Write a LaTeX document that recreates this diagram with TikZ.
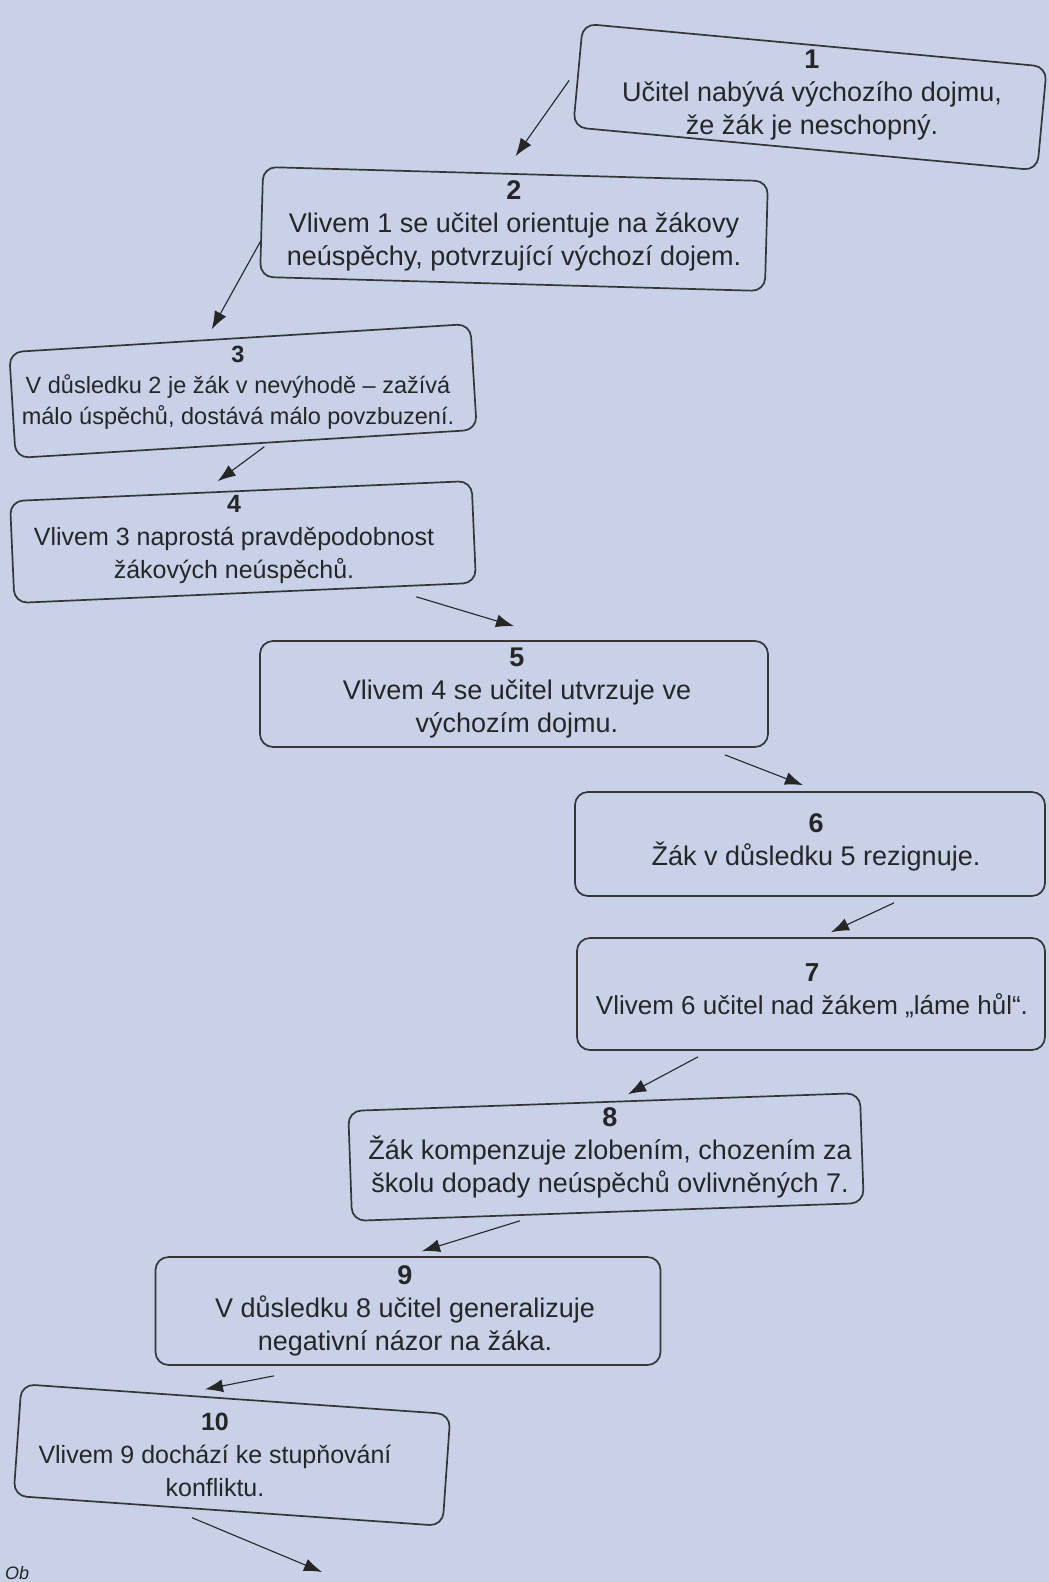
\documentclass[tikz,border=0pt]{standalone}
\usepackage{fontspec}
\setmainfont{Liberation Sans}
\usetikzlibrary{arrows.meta}
\definecolor{paper}{HTML}{C8D1E8}
\definecolor{ink}{HTML}{262626}
\definecolor{frame}{HTML}{363636}
\begin{document}
\begin{tikzpicture}[x=1pt,y=-1pt,
  box/.style={draw=frame, line width=1.7pt, rounded corners=13pt, fill=paper, inner sep=0pt},
  txt/.style={align=center, text=ink, inner sep=0pt, font=\fontsize{27}{33}\selectfont},
  midtxt/.style={align=center, text=ink, inner sep=0pt, font=\fontsize{25}{33}\selectfont},
  smalltxt/.style={align=center, text=ink, inner sep=0pt, font=\fontsize{23.5}{31}\selectfont},
  arr/.style={draw=ink, line width=1.1pt, -{Latex[length=18pt,width=13pt]}},
  capt/.style={text=ink, inner sep=0pt, font=\fontsize{18}{20}\selectfont\itshape}]
\fill[paper] (0,0) rectangle (1049,1582);
\useasboundingbox (0,0) rectangle (1049,1582);

% boxes
\node[box, minimum width=466pt, minimum height=104pt, rotate=-5.3] (n1) at (810,97) {};
\node[box, minimum width=505pt, minimum height=110pt, rotate=-1.6] (n2) at (514,229) {};
\node[box, minimum width=462pt, minimum height=106pt, rotate=3.5] (n3) at (243,391) {};
\node[box, minimum width=462pt, minimum height=102pt, rotate=2.5] (n4) at (243,542) {};
\node[box, minimum width=508pt, minimum height=106pt] (n5) at (514,694) {};
\node[box, minimum width=470pt, minimum height=104pt] (n6) at (810,844) {};
\node[box, minimum width=468pt, minimum height=112pt] (n7) at (811,994) {};
\node[box, minimum width=512pt, minimum height=110pt, rotate=2] (n8) at (606,1157) {};
\node[box, minimum width=505pt, minimum height=108pt] (n9) at (408,1311) {};
\node[box, minimum width=430pt, minimum height=112pt, rotate=-4] (n10) at (232,1455) {};

% texts
\node[txt] (t1) at (812,95)
  {{\bfseries 1}\\Učitel nabývá výchozího dojmu,\\že žák je neschopný.};
\node[txt] (t2) at (514,226)
  {{\bfseries 2}\\Vlivem 1 se učitel orientuje na žákovy\\neúspěchy, potvrzující výchozí dojem.};
\node[smalltxt] (t3) at (238,388)
  {{\bfseries 3}\\V důsledku 2 je žák v nevýhodě – zažívá\\málo úspěchů, dostává málo povzbuzení.};
\node[midtxt] (t4) at (234,539)
  {{\bfseries 4}\\Vlivem 3 naprostá pravděpodobnost\\žákových neúspěchů.};
\node[txt] (t5) at (517,693)
  {{\bfseries 5}\\Vlivem 4 se učitel utvrzuje ve\\výchozím dojmu.};
\node[txt] (t6) at (816,842)
  {{\bfseries 6}\\Žák v důsledku 5 rezignuje.};
\node[txt, font=\fontsize{26}{33}\selectfont] (t7) at (812,991)
  {{\bfseries 7}\\Vlivem 6 učitel nad žákem „láme hůl“.};
\node[txt] (t8) at (610,1153)
  {{\bfseries 8}\\Žák kompenzuje zlobením, chozením za\\školu dopady neúspěchů ovlivněných 7.};
\node[txt] (t9) at (405,1311)
  {{\bfseries 9}\\V důsledku 8 učitel generalizuje\\negativní názor na žáka.};
\node[midtxt] (t10) at (215,1455)
  {{\bfseries 10}\\Vlivem 9 dochází ke stupňování\\konfliktu.};

\coordinate (out) at (322,1572);

% connectors
\draw[arr] ([shift={(-8,5)}]n1.west) -- ([shift={(0,-17)}]n2.north);
\draw[arr] ([shift={(0,19)}]n2.west) -- ([shift={(-28,-8)}]n3.north);
\draw[arr] ([shift={(18,2)}]n3.south) -- ([shift={(-23,-9)}]n4.north);
\draw[arr] ([shift={(171,3)}]n4.south) -- ([shift={(0,-14)}]n5.north);
\draw[arr] ([shift={(-44,7)}]n5.south east) -- ([shift={(-7,-6)}]n6.north);
\draw[arr] ([shift={(84,6)}]n6.south) -- ([shift={(20,-5)}]n7.north);
\draw[arr] ([shift={(-113,6)}]n7.south) -- ([shift={(24,-7)}]n8.north);
\draw[arr] ([shift={(-88,8)}]n8.south) -- ([shift={(14,-5)}]n9.north);
\draw[arr] ([shift={(-134,10)}]n9.south) -- ([shift={(-31,-9)}]n10.north);
\draw[arr] ([shift={(-36,6)}]n10.south) -- (out);

\node[capt, anchor=south west] (cap) at (5,1580) {Ob};
\end{tikzpicture}
\end{document}
